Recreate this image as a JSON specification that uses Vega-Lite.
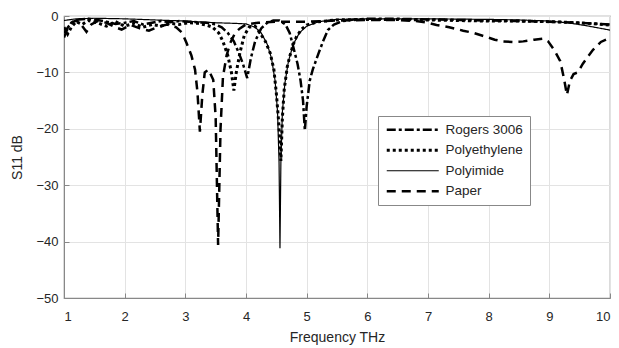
{
  "$schema": "https://vega.github.io/schema/vega-lite/v6.json",
  "autosize": "none",
  "width": 546,
  "height": 282,
  "padding": {"left": 64, "top": 16, "right": 9, "bottom": 50},
  "background": "white",
  "config": {
    "font": "Liberation Sans",
    "view": {"stroke": "#888888", "strokeWidth": 1.2},
    "axis": {
      "domainColor": "#888888",
      "tickColor": "#888888",
      "gridColor": "#e3e3e3",
      "labelColor": "#262626",
      "titleColor": "#262626",
      "labelFontSize": 13,
      "titleFontSize": 14,
      "titleFontWeight": "normal",
      "tickSize": -5
    }
  },
  "datasets": {
    "s11": [
      {"f": 1.0, "s": -3.0, "m": "Rogers 3006"},
      {"f": 1.08, "s": -1.8, "m": "Rogers 3006"},
      {"f": 1.15, "s": -1.0, "m": "Rogers 3006"},
      {"f": 1.25, "s": -0.6, "m": "Rogers 3006"},
      {"f": 1.4, "s": -0.5, "m": "Rogers 3006"},
      {"f": 1.55, "s": -0.7, "m": "Rogers 3006"},
      {"f": 1.7, "s": -1.0, "m": "Rogers 3006"},
      {"f": 1.85, "s": -1.4, "m": "Rogers 3006"},
      {"f": 2.0, "s": -1.2, "m": "Rogers 3006"},
      {"f": 2.15, "s": -0.9, "m": "Rogers 3006"},
      {"f": 2.3, "s": -1.5, "m": "Rogers 3006"},
      {"f": 2.45, "s": -1.2, "m": "Rogers 3006"},
      {"f": 2.6, "s": -0.9, "m": "Rogers 3006"},
      {"f": 2.75, "s": -1.1, "m": "Rogers 3006"},
      {"f": 2.9, "s": -0.9, "m": "Rogers 3006"},
      {"f": 3.05, "s": -1.0, "m": "Rogers 3006"},
      {"f": 3.2, "s": -1.1, "m": "Rogers 3006"},
      {"f": 3.35, "s": -1.2, "m": "Rogers 3006"},
      {"f": 3.5, "s": -1.5, "m": "Rogers 3006"},
      {"f": 3.6, "s": -2.0, "m": "Rogers 3006"},
      {"f": 3.7, "s": -3.0, "m": "Rogers 3006"},
      {"f": 3.8, "s": -4.5, "m": "Rogers 3006"},
      {"f": 3.88, "s": -6.5, "m": "Rogers 3006"},
      {"f": 3.95, "s": -8.5, "m": "Rogers 3006"},
      {"f": 4.02, "s": -11.0, "m": "Rogers 3006"},
      {"f": 4.08, "s": -7.5, "m": "Rogers 3006"},
      {"f": 4.15, "s": -4.5, "m": "Rogers 3006"},
      {"f": 4.25, "s": -2.2, "m": "Rogers 3006"},
      {"f": 4.35, "s": -1.2, "m": "Rogers 3006"},
      {"f": 4.45, "s": -0.8, "m": "Rogers 3006"},
      {"f": 4.55, "s": -0.8, "m": "Rogers 3006"},
      {"f": 4.65, "s": -1.5, "m": "Rogers 3006"},
      {"f": 4.72, "s": -3.0, "m": "Rogers 3006"},
      {"f": 4.78, "s": -5.5, "m": "Rogers 3006"},
      {"f": 4.85, "s": -8.5, "m": "Rogers 3006"},
      {"f": 4.9, "s": -11.5, "m": "Rogers 3006"},
      {"f": 4.94, "s": -15.0, "m": "Rogers 3006"},
      {"f": 4.97, "s": -20.3, "m": "Rogers 3006"},
      {"f": 5.0, "s": -16.0, "m": "Rogers 3006"},
      {"f": 5.05, "s": -11.5, "m": "Rogers 3006"},
      {"f": 5.1, "s": -9.5, "m": "Rogers 3006"},
      {"f": 5.2, "s": -6.5, "m": "Rogers 3006"},
      {"f": 5.27, "s": -4.5, "m": "Rogers 3006"},
      {"f": 5.35, "s": -2.5, "m": "Rogers 3006"},
      {"f": 5.45, "s": -1.5, "m": "Rogers 3006"},
      {"f": 5.6, "s": -0.9, "m": "Rogers 3006"},
      {"f": 5.8, "s": -0.6, "m": "Rogers 3006"},
      {"f": 6.0, "s": -0.5, "m": "Rogers 3006"},
      {"f": 6.5, "s": -0.5, "m": "Rogers 3006"},
      {"f": 7.0, "s": -0.6, "m": "Rogers 3006"},
      {"f": 7.5, "s": -0.7, "m": "Rogers 3006"},
      {"f": 8.0, "s": -0.8, "m": "Rogers 3006"},
      {"f": 8.5, "s": -0.9, "m": "Rogers 3006"},
      {"f": 9.0, "s": -1.0, "m": "Rogers 3006"},
      {"f": 9.5, "s": -1.2, "m": "Rogers 3006"},
      {"f": 10.0, "s": -1.5, "m": "Rogers 3006"},

      {"f": 1.0, "s": -2.0, "m": "Polyethylene"},
      {"f": 1.06, "s": -3.2, "m": "Polyethylene"},
      {"f": 1.12, "s": -2.0, "m": "Polyethylene"},
      {"f": 1.2, "s": -1.0, "m": "Polyethylene"},
      {"f": 1.3, "s": -1.5, "m": "Polyethylene"},
      {"f": 1.4, "s": -0.8, "m": "Polyethylene"},
      {"f": 1.55, "s": -1.2, "m": "Polyethylene"},
      {"f": 1.7, "s": -1.8, "m": "Polyethylene"},
      {"f": 1.85, "s": -1.0, "m": "Polyethylene"},
      {"f": 2.0, "s": -1.8, "m": "Polyethylene"},
      {"f": 2.15, "s": -1.3, "m": "Polyethylene"},
      {"f": 2.3, "s": -2.0, "m": "Polyethylene"},
      {"f": 2.45, "s": -1.5, "m": "Polyethylene"},
      {"f": 2.6, "s": -1.8, "m": "Polyethylene"},
      {"f": 2.75, "s": -1.3, "m": "Polyethylene"},
      {"f": 2.9, "s": -1.5, "m": "Polyethylene"},
      {"f": 3.05, "s": -1.2, "m": "Polyethylene"},
      {"f": 3.2, "s": -1.3, "m": "Polyethylene"},
      {"f": 3.35, "s": -1.6, "m": "Polyethylene"},
      {"f": 3.45, "s": -2.0, "m": "Polyethylene"},
      {"f": 3.55, "s": -3.0, "m": "Polyethylene"},
      {"f": 3.62, "s": -4.5, "m": "Polyethylene"},
      {"f": 3.7, "s": -7.0, "m": "Polyethylene"},
      {"f": 3.76, "s": -10.0, "m": "Polyethylene"},
      {"f": 3.8, "s": -13.2, "m": "Polyethylene"},
      {"f": 3.84, "s": -10.0, "m": "Polyethylene"},
      {"f": 3.9, "s": -6.5, "m": "Polyethylene"},
      {"f": 3.97, "s": -3.5, "m": "Polyethylene"},
      {"f": 4.05, "s": -2.0, "m": "Polyethylene"},
      {"f": 4.15, "s": -1.8, "m": "Polyethylene"},
      {"f": 4.23, "s": -3.0, "m": "Polyethylene"},
      {"f": 4.32, "s": -4.5, "m": "Polyethylene"},
      {"f": 4.4, "s": -6.6, "m": "Polyethylene"},
      {"f": 4.46, "s": -9.5, "m": "Polyethylene"},
      {"f": 4.5, "s": -13.7, "m": "Polyethylene"},
      {"f": 4.54, "s": -19.0, "m": "Polyethylene"},
      {"f": 4.575, "s": -25.7, "m": "Polyethylene"},
      {"f": 4.6, "s": -18.0, "m": "Polyethylene"},
      {"f": 4.63, "s": -13.0, "m": "Polyethylene"},
      {"f": 4.68, "s": -9.0, "m": "Polyethylene"},
      {"f": 4.72, "s": -7.2, "m": "Polyethylene"},
      {"f": 4.78, "s": -5.0, "m": "Polyethylene"},
      {"f": 4.83, "s": -3.7, "m": "Polyethylene"},
      {"f": 4.92, "s": -2.3, "m": "Polyethylene"},
      {"f": 5.0, "s": -1.6, "m": "Polyethylene"},
      {"f": 5.2, "s": -1.0, "m": "Polyethylene"},
      {"f": 5.5, "s": -0.7, "m": "Polyethylene"},
      {"f": 6.0, "s": -0.6, "m": "Polyethylene"},
      {"f": 6.5, "s": -0.6, "m": "Polyethylene"},
      {"f": 7.0, "s": -0.7, "m": "Polyethylene"},
      {"f": 7.5, "s": -0.8, "m": "Polyethylene"},
      {"f": 8.0, "s": -0.9, "m": "Polyethylene"},
      {"f": 8.5, "s": -0.9, "m": "Polyethylene"},
      {"f": 9.0, "s": -1.0, "m": "Polyethylene"},
      {"f": 9.5, "s": -1.2, "m": "Polyethylene"},
      {"f": 10.0, "s": -1.6, "m": "Polyethylene"},

      {"f": 1.0, "s": -0.8, "m": "Polyimide"},
      {"f": 1.2, "s": -0.5, "m": "Polyimide"},
      {"f": 1.5, "s": -0.4, "m": "Polyimide"},
      {"f": 2.0, "s": -0.5, "m": "Polyimide"},
      {"f": 2.5, "s": -0.7, "m": "Polyimide"},
      {"f": 3.0, "s": -0.9, "m": "Polyimide"},
      {"f": 3.5, "s": -1.2, "m": "Polyimide"},
      {"f": 3.8, "s": -1.3, "m": "Polyimide"},
      {"f": 4.0, "s": -1.4, "m": "Polyimide"},
      {"f": 4.15, "s": -2.0, "m": "Polyimide"},
      {"f": 4.25, "s": -3.0, "m": "Polyimide"},
      {"f": 4.35, "s": -5.0, "m": "Polyimide"},
      {"f": 4.42, "s": -7.5, "m": "Polyimide"},
      {"f": 4.48, "s": -11.5, "m": "Polyimide"},
      {"f": 4.52, "s": -17.0, "m": "Polyimide"},
      {"f": 4.545, "s": -26.0, "m": "Polyimide"},
      {"f": 4.56, "s": -41.2, "m": "Polyimide"},
      {"f": 4.575, "s": -26.0, "m": "Polyimide"},
      {"f": 4.6, "s": -17.0, "m": "Polyimide"},
      {"f": 4.64, "s": -12.0, "m": "Polyimide"},
      {"f": 4.7, "s": -8.0, "m": "Polyimide"},
      {"f": 4.78, "s": -5.0, "m": "Polyimide"},
      {"f": 4.88, "s": -3.0, "m": "Polyimide"},
      {"f": 5.0, "s": -1.8, "m": "Polyimide"},
      {"f": 5.2, "s": -1.0, "m": "Polyimide"},
      {"f": 5.5, "s": -0.6, "m": "Polyimide"},
      {"f": 6.0, "s": -0.5, "m": "Polyimide"},
      {"f": 7.0, "s": -0.5, "m": "Polyimide"},
      {"f": 8.0, "s": -0.6, "m": "Polyimide"},
      {"f": 8.5, "s": -0.7, "m": "Polyimide"},
      {"f": 9.0, "s": -0.9, "m": "Polyimide"},
      {"f": 9.3, "s": -1.2, "m": "Polyimide"},
      {"f": 9.6, "s": -1.7, "m": "Polyimide"},
      {"f": 10.0, "s": -2.5, "m": "Polyimide"},

      {"f": 1.0, "s": -3.8, "m": "Paper"},
      {"f": 1.05, "s": -2.5, "m": "Paper"},
      {"f": 1.12, "s": -1.2, "m": "Paper"},
      {"f": 1.2, "s": -0.8, "m": "Paper"},
      {"f": 1.28, "s": -1.5, "m": "Paper"},
      {"f": 1.37, "s": -2.8, "m": "Paper"},
      {"f": 1.45, "s": -1.5, "m": "Paper"},
      {"f": 1.55, "s": -0.9, "m": "Paper"},
      {"f": 1.7, "s": -1.2, "m": "Paper"},
      {"f": 1.85, "s": -2.0, "m": "Paper"},
      {"f": 1.95, "s": -2.4, "m": "Paper"},
      {"f": 2.1, "s": -1.6, "m": "Paper"},
      {"f": 2.25, "s": -2.2, "m": "Paper"},
      {"f": 2.4, "s": -2.6, "m": "Paper"},
      {"f": 2.55, "s": -1.9, "m": "Paper"},
      {"f": 2.7, "s": -1.5, "m": "Paper"},
      {"f": 2.85, "s": -2.0, "m": "Paper"},
      {"f": 2.95, "s": -3.0, "m": "Paper"},
      {"f": 3.02, "s": -4.8, "m": "Paper"},
      {"f": 3.1, "s": -7.0, "m": "Paper"},
      {"f": 3.16, "s": -9.5, "m": "Paper"},
      {"f": 3.2, "s": -13.5, "m": "Paper"},
      {"f": 3.24, "s": -20.5, "m": "Paper"},
      {"f": 3.28, "s": -14.0, "m": "Paper"},
      {"f": 3.32, "s": -10.0, "m": "Paper"},
      {"f": 3.38, "s": -9.5, "m": "Paper"},
      {"f": 3.46, "s": -11.3, "m": "Paper"},
      {"f": 3.5, "s": -18.0, "m": "Paper"},
      {"f": 3.54, "s": -40.6, "m": "Paper"},
      {"f": 3.58, "s": -20.0, "m": "Paper"},
      {"f": 3.62, "s": -10.8, "m": "Paper"},
      {"f": 3.68, "s": -7.0, "m": "Paper"},
      {"f": 3.74, "s": -4.8, "m": "Paper"},
      {"f": 3.82, "s": -3.0, "m": "Paper"},
      {"f": 3.9, "s": -2.2, "m": "Paper"},
      {"f": 4.0, "s": -1.5, "m": "Paper"},
      {"f": 4.2, "s": -1.2, "m": "Paper"},
      {"f": 4.5, "s": -1.0, "m": "Paper"},
      {"f": 5.0, "s": -1.0, "m": "Paper"},
      {"f": 5.5, "s": -0.8, "m": "Paper"},
      {"f": 6.0, "s": -0.7, "m": "Paper"},
      {"f": 6.5, "s": -0.7, "m": "Paper"},
      {"f": 6.8, "s": -0.9, "m": "Paper"},
      {"f": 7.0, "s": -1.2, "m": "Paper"},
      {"f": 7.14, "s": -1.6, "m": "Paper"},
      {"f": 7.35, "s": -2.0, "m": "Paper"},
      {"f": 7.58, "s": -2.6, "m": "Paper"},
      {"f": 7.75, "s": -3.0, "m": "Paper"},
      {"f": 7.9, "s": -3.5, "m": "Paper"},
      {"f": 8.1, "s": -4.2, "m": "Paper"},
      {"f": 8.24, "s": -4.5, "m": "Paper"},
      {"f": 8.4, "s": -4.6, "m": "Paper"},
      {"f": 8.57, "s": -4.5, "m": "Paper"},
      {"f": 8.75, "s": -4.2, "m": "Paper"},
      {"f": 8.9, "s": -4.0, "m": "Paper"},
      {"f": 8.98, "s": -4.5, "m": "Paper"},
      {"f": 9.08, "s": -6.0, "m": "Paper"},
      {"f": 9.18, "s": -8.0, "m": "Paper"},
      {"f": 9.24, "s": -11.0, "m": "Paper"},
      {"f": 9.29, "s": -14.0, "m": "Paper"},
      {"f": 9.34, "s": -11.5, "m": "Paper"},
      {"f": 9.4, "s": -10.3, "m": "Paper"},
      {"f": 9.47, "s": -10.0, "m": "Paper"},
      {"f": 9.55, "s": -8.5, "m": "Paper"},
      {"f": 9.65, "s": -7.0, "m": "Paper"},
      {"f": 9.72, "s": -6.0, "m": "Paper"},
      {"f": 9.85, "s": -4.6, "m": "Paper"},
      {"f": 10.0, "s": -3.9, "m": "Paper"}
    ]
  },
  "data": {"name": "s11"},
  "mark": {"type": "line", "color": "black", "clip": true, "interpolate": "linear"},
  "encoding": {
    "x": {
      "field": "f", "type": "quantitative",
      "scale": {"domain": [1, 10], "nice": false, "zero": false},
      "axis": {"values": [1,2,3,4,5,6,7,8,9,10], "title": "Frequency THz", "labelPadding": 17, "titlePadding": 7, "format": "d"}
    },
    "y": {
      "field": "s", "type": "quantitative",
      "scale": {"domain": [-50, 0], "nice": false},
      "axis": {"values": [-50,-40,-30,-20,-10,0], "title": "S11 dB", "labelPadding": 11, "titlePadding": 11}
    },
    "detail": {"field": "m"},
    "strokeDash": {
      "field": "m", "type": "nominal",
      "scale": {
        "domain": ["Rogers 3006", "Polyethylene", "Polyimide", "Paper"],
        "range": [[9, 3, 3, 3], [3, 3], [1, 0], [9, 6]]
      },
      "legend": {
        "title": null,
        "orient": "none",
        "legendX": 314,
        "legendY": 100,
        "symbolType": "M-5.2,0H5.2",
        "symbolSize": 100,
        "symbolOffset": 21,
        "symbolStrokeColor": "black",
        "labelFontSize": 13.5,
        "labelColor": "#262626",
        "labelOffset": 26,
        "strokeColor": "#888888",
        "fillColor": "white",
        "padding": 7,
        "rowPadding": 5.5
      }
    },
    "strokeWidth": {
      "field": "m", "type": "nominal",
      "scale": {
        "type": "ordinal",
        "domain": ["Rogers 3006", "Polyethylene", "Polyimide", "Paper"],
        "range": [2.5, 3, 1.2, 2.5]
      },
      "legend": null
    }
  }
}
